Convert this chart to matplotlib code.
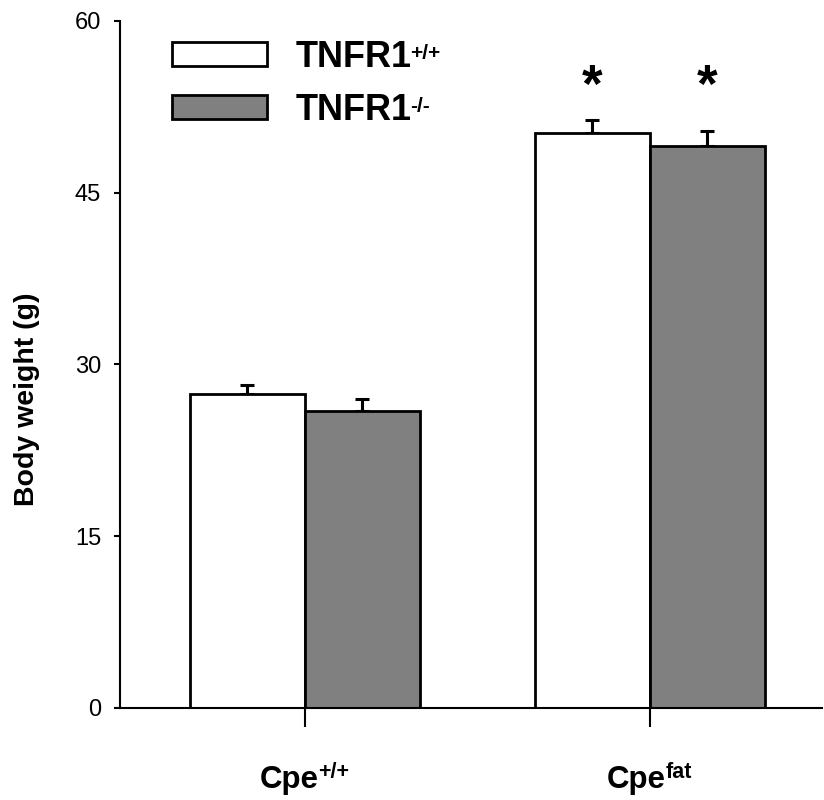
import numpy as np
import matplotlib
matplotlib.use("Agg")
import matplotlib.pyplot as plt

plt.rcParams["font.family"] = ["Liberation Sans", "DejaVu Sans"]

# datos
grupos = ["Cpe", "Cpe"]
grupos_sup = ["+/+", "fat"]
series = ["TNFR1", "TNFR1"]
series_sup = ["+/+", "-/-"]
wt = [27.4, 50.2]
wt_err = [0.8, 1.15]
ko = [25.9, 49.1]
ko_err = [1.1, 1.3]
sig = [False, True]

fig = plt.figure(figsize=(8.24, 8.0), dpi=100)
ax = fig.add_axes([0.1456, 0.115, 0.852, 0.859])

x = np.arange(len(grupos))
w = 0.333
b1 = ax.bar(x - w/2, wt, w, color="white", edgecolor="black", linewidth=2,
            label=series[0], zorder=2)
b2 = ax.bar(x + w/2, ko, w, color="#808080", edgecolor="black", linewidth=2,
            label=series[1], zorder=2)
ax.errorbar(x - w/2, wt, yerr=[np.zeros(2), wt_err], fmt="none", ecolor="black",
            elinewidth=2.2, capsize=5, capthick=2.2, zorder=1)
ax.errorbar(x + w/2, ko, yerr=[np.zeros(2), ko_err], fmt="none", ecolor="black",
            elinewidth=2.2, capsize=5, capthick=2.2, zorder=1)

# asteriscos
for i in range(len(x)):
    if sig[i]:
        ytop = max(wt[i] + wt_err[i], ko[i] + ko_err[i]) + 2.8
        ax.text(x[i] - w/2, ytop, "*", ha="center", va="center", fontsize=38, fontweight="bold")
        ax.text(x[i] + w/2, ytop, "*", ha="center", va="center", fontsize=38, fontweight="bold")

ax.set_xlim(-0.536, 1.499)
ax.set_ylim(0, 60)
ax.set_yticks([0, 15, 30, 45, 60])
ax.set_xticks(x)
ax.set_xticklabels(["", ""])
ax.tick_params(axis="x", direction="out", length=14, width=1.5)
ax.tick_params(axis="y", direction="out", length=4.5, width=1.5, labelsize=17, pad=9)
for s in ["top", "right"]:
    ax.spines[s].set_visible(False)
for s in ["left", "bottom"]:
    ax.spines[s].set_linewidth(1.5)

ax.set_ylabel("Body weight (g)", fontsize=20.5, fontweight="bold")
ax.yaxis.set_label_coords(-0.114, 0.45)

# etiquetas de grupo con superindice
etiquetas = []
for xi, base, sup in zip(x, grupos, grupos_sup):
    t = ax.annotate(base, xy=(xi, 0), xycoords=("data", "axes fraction"),
                    xytext=(0, -57.5), textcoords="offset points", ha="center", va="baseline",
                    fontsize=22.5, fontweight="bold", annotation_clip=False)
    s = ax.annotate(sup, xy=(1, 0), xycoords=t, xytext=(-0.5, 12), textcoords="offset points",
                    ha="left", va="baseline", fontsize=15.5, fontweight="bold",
                    annotation_clip=False)
    etiquetas.append((t, s))

leg = ax.legend(handles=[b1, b2], loc="upper left", bbox_to_anchor=(0.054, 0.993),
                frameon=False, prop={"weight": "bold", "size": 26},
                handlelength=2.63, handleheight=0.64, handletextpad=0.78,
                labelspacing=0.49, borderaxespad=0.0)
for txt, sup in zip(leg.get_texts(), series_sup):
    ax.annotate(sup, xy=(1, 0), xycoords=txt, xytext=(-1, 11.5), textcoords="offset points",
                ha="left", va="baseline", fontsize=15, fontweight="bold",
                annotation_clip=False, zorder=6)

fig.canvas.draw()
for t, s in etiquetas:
    ancho = s.get_window_extent().width * 72 / fig.dpi
    t.xyann = (-ancho / 2, -57.5)

fig.savefig("out.png", dpi=100)
